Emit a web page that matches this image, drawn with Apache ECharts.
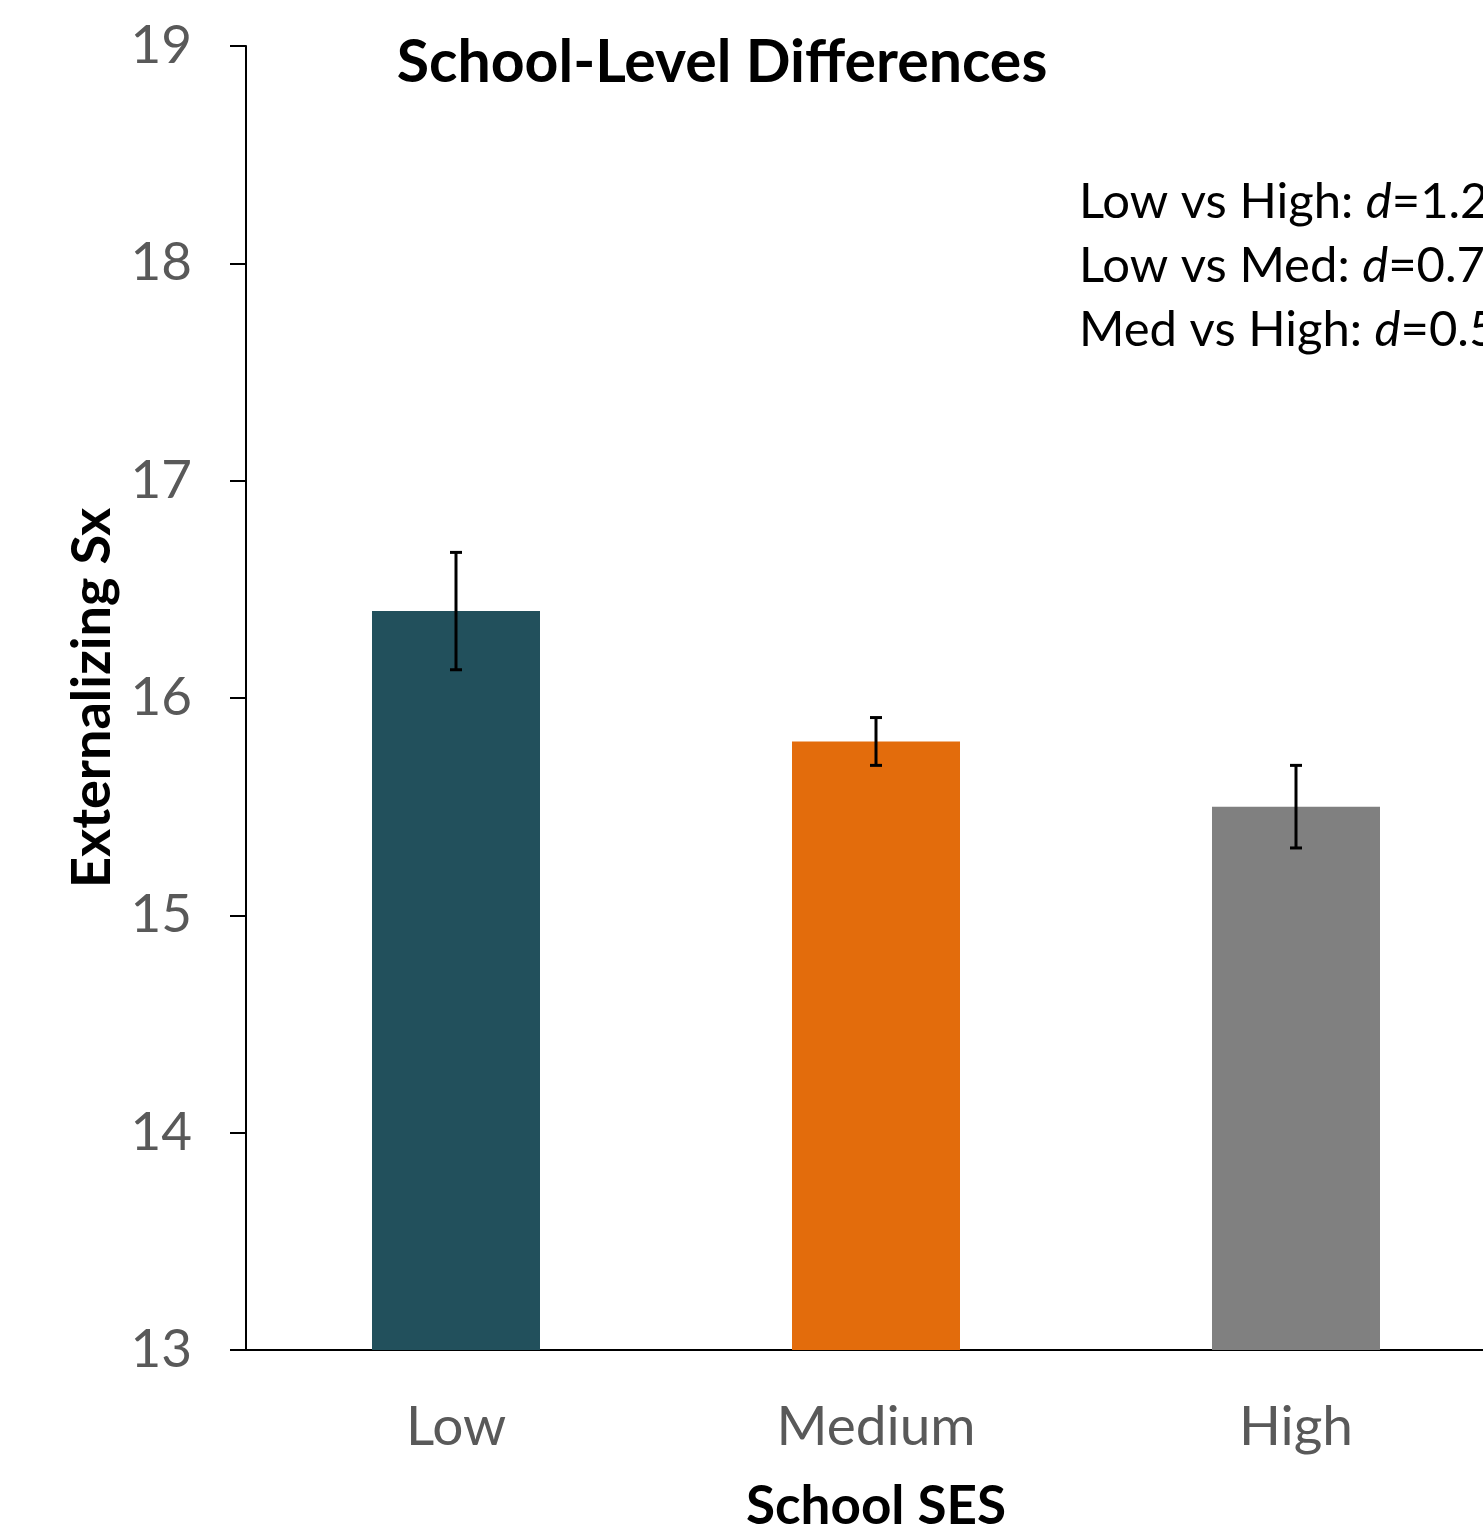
<!DOCTYPE html>
<html><head><meta charset="utf-8">
<script src="https://cdn.jsdelivr.net/npm/echarts@6/dist/echarts.min.js"></script>
<style>html,body{margin:0;padding:0;background:#fff;overflow:hidden;width:1483px;height:1531px;position:relative;}#c{position:absolute;left:0;top:0;width:1560px;height:1531px;}</style>
</head><body><div id="c"></div>
<script>
var categories = ['Low', 'Medium', 'High'];
var means = [16.4, 15.8, 15.5];
var errors = [0.27, 0.11, 0.19];
var barColors = ['#22505C', '#E36C0C', '#808080'];
var yTicks = [13, 14, 15, 16, 17, 18, 19];
var comparisons = ['Low vs High: ', 'Low vs Med: ', 'Med vs High: '];
var effectSizes = ['1.2', '0.7', '0.5'];

var FONT = 'Lato';
var chart = echarts.init(document.getElementById('c'), null, {renderer: 'canvas', width: 1560, height: 1531});

var annoText = comparisons.map(function (c, i) {
  return '{n|' + c + '}{i|d}{n|=' + effectSizes[i] + '}';
}).join('\n');

chart.setOption({
  backgroundColor: '#fff',
  animation: false,
  title: {
    text: 'School-Level Differences',
    left: 717, top: 28, textAlign: 'center',
    textStyle: {fontFamily: FONT, fontWeight: 'bold', fontSize: 59, color: '#000'}
  },
  grid: {left: 246, top: 46, width: 1260, height: 1304, outerBoundsMode: 'none', containLabel: false},
  xAxis: {
    type: 'category', data: categories,
    name: 'School SES', nameLocation: 'middle', nameGap: 130,
    nameTextStyle: {fontFamily: FONT, fontWeight: 'bold', fontSize: 53, color: '#000'},
    axisLine: {lineStyle: {color: '#000', width: 2}},
    axisTick: {show: false},
    axisLabel: {fontFamily: FONT, fontSize: 55, color: '#595959', margin: 50}
  },
  yAxis: {
    type: 'value', min: yTicks[0], max: yTicks[yTicks.length - 1], interval: 1,
    name: 'Externalizing Sx', nameLocation: 'middle', nameGap: 124,
    nameTextStyle: {fontFamily: FONT, fontWeight: 'bold', fontSize: 54, color: '#000'},
    axisLine: {show: true, lineStyle: {color: '#000', width: 2}},
    axisTick: {show: true, length: 16, lineStyle: {color: '#000', width: 2}},
    splitLine: {show: false},
    axisLabel: {fontFamily: FONT, fontSize: 53, color: '#595959', margin: 54}
  },
  graphic: [{
    type: 'text', left: 1079, top: 170,
    style: {
      text: annoText,
      font: '49px ' + FONT,
      lineHeight: 64,
      fill: '#000',
      rich: {
        n: {fontFamily: FONT, fontSize: 49, fill: '#000', lineHeight: 64},
        i: {fontFamily: FONT, fontSize: 49, fontStyle: 'italic', fill: '#000', lineHeight: 64}
      }
    }
  }],
  series: [{
    type: 'bar', barWidth: '40%',
    data: means.map(function (v, i) { return {value: v, itemStyle: {color: barColors[i]}}; })
  }, {
    type: 'custom',
    data: means.map(function (v, i) { return [i, v - errors[i], v + errors[i]]; }),
    renderItem: function (params, api) {
      var lo = api.coord([api.value(0), api.value(1)]);
      var hi = api.coord([api.value(0), api.value(2)]);
      var hw = 6;
      var st = {stroke: '#000', lineWidth: 3};
      return {type: 'group', children: [
        {type: 'line', shape: {x1: hi[0], y1: hi[1], x2: lo[0], y2: lo[1]}, style: st},
        {type: 'line', shape: {x1: hi[0] - hw, y1: hi[1], x2: hi[0] + hw, y2: hi[1]}, style: st},
        {type: 'line', shape: {x1: lo[0] - hw, y1: lo[1], x2: lo[0] + hw, y2: lo[1]}, style: st}
      ]};
    },
    z: 10
  }]
});
</script></body></html>
